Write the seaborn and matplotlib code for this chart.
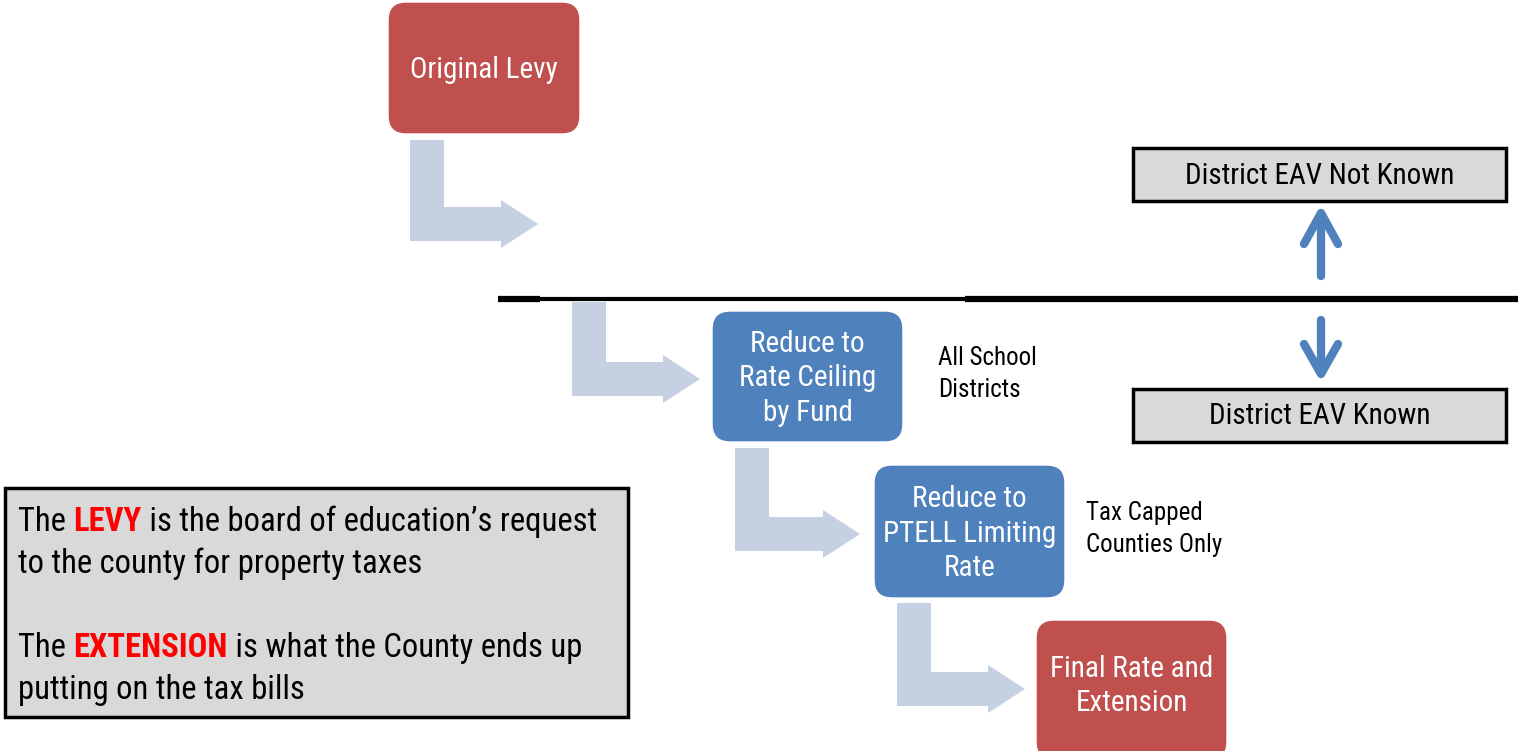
import matplotlib
matplotlib.use("Agg")
import matplotlib.pyplot as plt
from matplotlib import font_manager
from matplotlib.patches import FancyBboxPatch, Rectangle, Polygon
import seaborn as sns

# ── Diagram content ──────────────────────────────────────────
step_labels = ["Original Levy", "Reduce to\nRate Ceiling\nby Fund",
               "Reduce to\nPTELL Limiting\nRate", "Final Rate and\nExtension"]
step_kinds = ["red", "blue", "blue", "red"]
step_notes = ["", "All School\nDistricts", "Tax Capped\nCounties Only", ""]
eav_labels = ["District EAV Not Known", "District EAV Known"]
legend_lines = [
    [("The ", "k", "normal"), ("LEVY", "#FF0000", "bold"),
     (" is the board of education\u2019s request", "k", "normal")],
    [("to the county for property taxes", "k", "normal")],
    [],
    [("The ", "k", "normal"), ("EXTENSION", "#FF0000", "bold"),
     (" is what the County ends up", "k", "normal")],
    [("putting on the tax bills", "k", "normal")],
]

# ── Layout (pixels, origin top-left) ─────────────────────────
W, H = 1518, 751
step_boxes = [(388, 2, 192, 132), (712, 311, 191, 131),
              (874, 465, 191, 133), (1036, 620, 191, 140)]
note_xy = [None, (938, 374), (1086, 529), None]
eav_boxes = [(1133, 148, 373, 53), (1133, 389, 373, 53)]
legend_box = (5, 488, 623, 229)

COLORS = {"red": "#C0504D", "blue": "#4F81BD"}
ARROW_C = "#C5D0E3"
GRAY = "#D9D9D9"

names = {f.name for f in font_manager.fontManager.ttflist}
FONT = "DejaVu Sans"
for cand in ["Roboto Condensed", "Archivo Narrow", "PT Sans Narrow",
             "Liberation Sans Narrow"]:
    if cand in names:
        FONT = cand
        break
STRETCH = "condensed" if FONT == "DejaVu Sans" else "normal"

sns.set_style("white")
plt.rcParams["font.family"] = [FONT, "DejaVu Sans"]

fig = plt.figure(figsize=(W / 100, H / 100), dpi=100)
ax = fig.add_axes([0, 0, 1, 1])
ax.set_xlim(0, W)
ax.set_ylim(H, 0)
ax.set_aspect("equal")
ax.axis("off")


def bent_arrow(box_left, top, bottom, tip_x):
    # L-shaped block arrow going down then right
    sw = 34
    x0, x1 = box_left, box_left + sw
    yb0, yb1 = bottom - sw, bottom
    hx = tip_x - 37
    pts = [(x0, top), (x1, top), (x1, yb0), (hx, yb0), (hx, yb0 - 7),
           (tip_x, (yb0 + yb1) / 2), (hx, yb1 + 7), (hx, yb1), (x0, yb1)]
    ax.add_patch(Polygon(pts, closed=True, facecolor=ARROW_C, edgecolor="none"))


# flow arrows
bent_arrow(410, 140, 241, 538)
bent_arrow(572, 302, 396, 700)
bent_arrow(735, 448, 551, 860)
bent_arrow(897, 603, 706, 1025)

# step boxes
for (x, y, w, h), lab, kind, note, nxy in zip(step_boxes, step_labels, step_kinds,
                                              step_notes, note_xy):
    ax.add_patch(FancyBboxPatch((x, y), w, h,
                                boxstyle="round,pad=0,rounding_size=18",
                                facecolor=COLORS[kind], edgecolor="white", lw=1))
    cy = y + h / 2 + 2 if kind == "blue" or y < 100 else y + h / 2 - 4
    ax.text(x + w / 2, cy, lab, ha="center", va="center", color="white",
            fontsize=21, linespacing=1.3, fontstretch=STRETCH)
    if note:
        ax.text(nxy[0], nxy[1], note, ha="left", va="center", color="black",
                fontsize=18, linespacing=1.45, fontstretch=STRETCH)

# divider line
ax.plot([498, 540], [299, 299], color="black", lw=4.5, solid_capstyle="butt")
ax.plot([540, 965], [299, 299], color="black", lw=3.0, solid_capstyle="butt")
ax.plot([965, W], [299, 299], color="black", lw=4.5, solid_capstyle="butt")

# EAV boxes
for (x, y, w, h), lab in zip(eav_boxes, eav_labels):
    ax.add_patch(Rectangle((x, y), w, h, facecolor=GRAY, edgecolor="black", lw=2.5))
    ax.text(x + w / 2, y + h / 2 + 1, lab, ha="center", va="center", color="black",
            fontsize=21, fontstretch=STRETCH)

# up / down arrows
ac = COLORS["blue"]
kw = dict(color=ac, lw=6, solid_capstyle="round", solid_joinstyle="round")
ax.plot([1321, 1321], [276, 214], **kw)
ax.plot([1304, 1321, 1338], [244, 213, 244], **kw)
ax.plot([1321, 1321], [320, 373], **kw)
ax.plot([1304, 1321, 1338], [344, 374, 344], **kw)

# legend box
lx, ly, lw_, lh = legend_box
ax.add_patch(Rectangle((lx, ly), lw_, lh, facecolor=GRAY, edgecolor="black", lw=2.5))
line_y = [538, 580, 622, 664, 706]
for parts, yy in zip(legend_lines, line_y):
    prev = None
    for txt, col, wt in parts:
        if prev is None:
            prev = ax.annotate(txt, xy=(18, yy), xycoords="data", ha="left",
                               va="bottom", color=col, fontweight=wt, fontsize=23.5,
                               fontstretch=STRETCH)
        else:
            prev = ax.annotate(txt, xy=(1, 0), xycoords=prev, ha="left",
                               va="bottom", color=col, fontweight=wt, fontsize=23.5,
                               fontstretch=STRETCH)

fig.savefig("out.png", dpi=100)
